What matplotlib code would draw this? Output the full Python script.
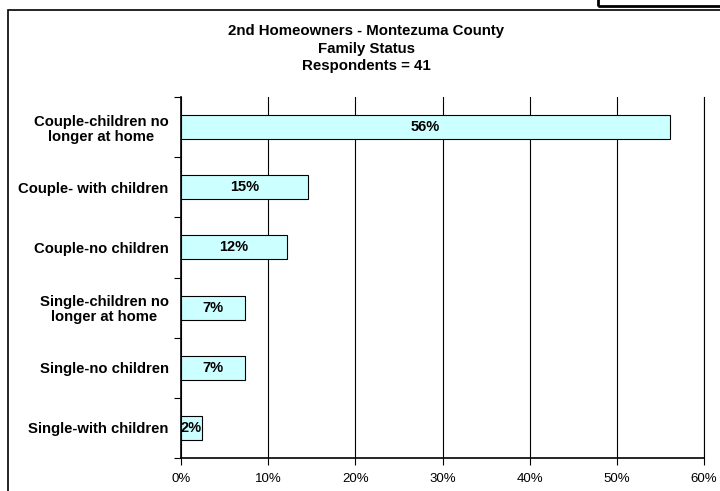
import matplotlib
matplotlib.use("Agg")
import matplotlib.pyplot as plt
import matplotlib.patches as patches
from matplotlib.ticker import FuncFormatter, MultipleLocator

categories = [
    "Couple-children no\nlonger at home",
    "Couple- with children",
    "Couple-no children",
    "Single-children no\nlonger at home",
    "Single-no children",
    "Single-with children",
]
values = [56.1, 14.6, 12.2, 7.3, 7.3, 2.4]
labels = ["56%", "15%", "12%", "7%", "7%", "2%"]
title_lines = ["2nd Homeowners - Montezuma County", "Family Status", "Respondents = 41"]

plt.rcParams["font.family"] = ["Liberation Sans", "DejaVu Sans"]

fig = plt.figure(figsize=(7.2, 4.91), dpi=100)

# outer chart border and the corner of a neighbouring box
fig.add_artist(patches.Rectangle((8 / 720, -0.1), 1.0, 1 - 10 / 491 + 0.1,
                                 transform=fig.transFigure, fill=False,
                                 edgecolor="black", linewidth=1.2))
fig.add_artist(patches.Rectangle((598 / 720, 1 - 6 / 491), 0.2, 0.1,
                                 transform=fig.transFigure, fill=False,
                                 edgecolor="black", linewidth=2))

ax = fig.add_axes([181 / 720, 1 - 458 / 491, 523 / 720, (458 - 97) / 491])

n = len(categories)
ypos = [n - 1 - i for i in range(n)]
ax.barh(ypos, values, height=0.4, color="#CCFFFF", edgecolor="black",
        linewidth=0.8, zorder=3)
for y, v, lab in zip(ypos, values, labels):
    ax.text(v / 2, y, lab, ha="center", va="center", fontsize=10.5,
            fontweight="bold", zorder=4)

ax.set_xlim(0, 60)
ax.set_ylim(-0.5, n - 0.5)
ax.xaxis.set_major_locator(MultipleLocator(10))
ax.xaxis.set_major_formatter(FuncFormatter(lambda x, p: f"{x:.0f}%"))
ax.grid(axis="x", color="black", linewidth=0.8, zorder=1)

ax.set_yticks([y + 0.5 for y in range(-1, n)], minor=False)
ax.set_yticklabels([])
ax.set_yticks(ypos, minor=True)
ax.set_yticklabels(categories, minor=True, fontsize=10.7, fontweight="bold",
                   ha="right", multialignment="center", linespacing=1.1)
ax.tick_params(axis="y", which="minor", length=0, pad=9)
ax.tick_params(axis="y", which="major", length=5, direction="out")
ax.tick_params(axis="x", length=5, direction="out", labelsize=9.5, pad=6)

ax.spines["top"].set_visible(False)
ax.spines["right"].set_linewidth(0.8)
for s in ("left", "bottom"):
    ax.spines[s].set_linewidth(1.2)

for k, line in enumerate(title_lines):
    fig.text(366 / 720, 1 - (31 + 17.5 * k) / 491, line, ha="center", va="center",
             fontsize=10.8, fontweight="bold")

fig.savefig("out.png", dpi=100)
